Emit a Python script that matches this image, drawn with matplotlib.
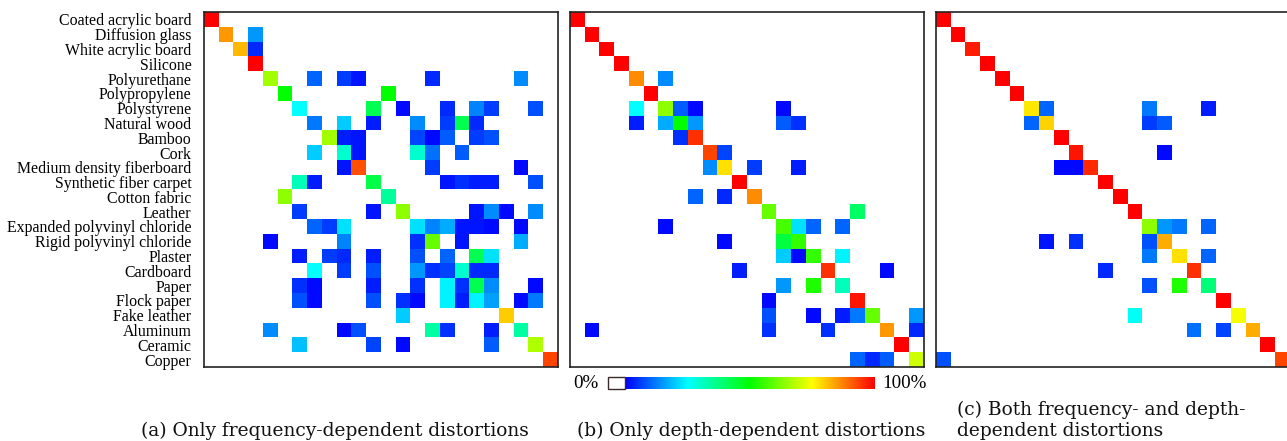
import numpy as np
import matplotlib
matplotlib.use("Agg")
import matplotlib.pyplot as plt
from matplotlib.colors import LinearSegmentedColormap
from matplotlib.patches import Rectangle

materials = ["Coated acrylic board", "Diffusion glass", "White acrylic board", "Silicone",
             "Polyurethane", "Polypropylene", "Polystyrene", "Natural wood", "Bamboo", "Cork",
             "Medium density fiberboard", "Synthetic fiber carpet", "Cotton fabric", "Leather",
             "Expanded polyvinyl chloride", "Rigid polyvinyl chloride", "Plaster", "Cardboard",
             "Paper", "Flock paper", "Fake leather", "Aluminum", "Ceramic", "Copper"]

# (row = true class, col = predicted class, percent)
freq_cells = [
    (0, 0, 100),
    (1, 1, 85), (1, 3, 15),
    (2, 2, 82), (2, 3, 4),
    (3, 3, 100),
    (4, 4, 66), (4, 7, 10), (4, 9, 6), (4, 10, 2), (4, 15, 4), (4, 21, 14),
    (5, 5, 50), (5, 12, 50),
    (6, 6, 25), (6, 11, 42), (6, 13, 1), (6, 16, 4), (6, 18, 13), (6, 19, 6), (6, 22, 8),
    (7, 7, 12), (7, 9, 20), (7, 11, 3), (7, 14, 14), (7, 16, 6), (7, 17, 42), (7, 18, 4),
    (8, 8, 66), (8, 9, 3), (8, 10, 2), (8, 14, 7), (8, 15, 1), (8, 16, 9), (8, 18, 6), (8, 19, 8),
    (9, 7, 20), (9, 9, 30), (9, 10, 2), (9, 14, 30), (9, 15, 11), (9, 17, 9),
    (10, 9, 2), (10, 10, 92), (10, 15, 6), (10, 21, 1),
    (11, 6, 32), (11, 7, 3), (11, 11, 43), (11, 16, 2), (11, 17, 5), (11, 18, 3), (11, 19, 3), (11, 22, 8),
    (12, 5, 64), (12, 12, 35),
    (13, 6, 6), (13, 11, 2), (13, 13, 64), (13, 18, 2), (13, 19, 14), (13, 20, 1), (13, 22, 14),
    (14, 7, 10), (14, 8, 6), (14, 9, 22), (14, 14, 22), (14, 15, 13), (14, 16, 17), (14, 17, 2),
    (14, 18, 2), (14, 19, 1), (14, 21, 1),
    (15, 4, 1), (15, 9, 13), (15, 14, 5), (15, 15, 60), (15, 17, 2), (15, 21, 17),
    (16, 6, 3), (16, 8, 6), (16, 9, 4), (16, 11, 3), (16, 14, 8), (16, 16, 10), (16, 18, 42), (16, 19, 22),
    (17, 7, 25), (17, 9, 6), (17, 11, 8), (17, 14, 15), (17, 15, 5), (17, 16, 7), (17, 17, 30),
    (17, 18, 4), (17, 19, 4),
    (18, 6, 5), (18, 7, 1), (18, 11, 3), (18, 14, 5), (18, 16, 24), (18, 17, 5), (18, 18, 42),
    (18, 19, 14), (18, 22, 1),
    (19, 6, 8), (19, 7, 1), (19, 11, 8), (19, 13, 5), (19, 14, 1), (19, 16, 24), (19, 17, 3),
    (19, 18, 24), (19, 19, 16), (19, 21, 1), (19, 22, 12),
    (20, 13, 20), (20, 20, 80),
    (21, 4, 14), (21, 9, 1), (21, 10, 8), (21, 15, 34), (21, 16, 5), (21, 19, 3), (21, 21, 34),
    (22, 6, 19), (22, 11, 7), (22, 13, 1), (22, 19, 9), (22, 22, 67),
    (23, 23, 93),
]

depth_cells = [
    (0, 0, 100), (1, 1, 100), (2, 2, 100), (3, 3, 100),
    (4, 4, 86), (4, 6, 14),
    (5, 5, 100),
    (6, 4, 25), (6, 6, 64), (6, 7, 9), (6, 8, 1), (6, 14, 1),
    (7, 4, 3), (7, 6, 17), (7, 7, 50), (7, 8, 15), (7, 14, 9), (7, 15, 5),
    (8, 7, 5), (8, 8, 95),
    (9, 9, 93), (9, 10, 7),
    (10, 9, 14), (10, 10, 78), (10, 12, 6), (10, 15, 3),
    (11, 11, 100),
    (12, 8, 10), (12, 10, 4), (12, 12, 86),
    (13, 13, 60), (13, 19, 40),
    (14, 6, 1), (14, 14, 57), (14, 15, 22), (14, 16, 10), (14, 18, 10),
    (15, 10, 1), (15, 14, 44), (15, 15, 55),
    (16, 14, 20), (16, 15, 1), (16, 16, 55), (16, 18, 24),
    (17, 11, 3), (17, 17, 95), (17, 21, 1),
    (18, 14, 15), (18, 16, 53), (18, 18, 32),
    (19, 13, 1), (19, 19, 98),
    (20, 13, 8), (20, 16, 1), (20, 18, 3), (20, 19, 12), (20, 20, 60), (20, 23, 15),
    (21, 1, 1), (21, 13, 5), (21, 17, 5), (21, 21, 85), (21, 23, 4),
    (22, 22, 100),
    (23, 19, 10), (23, 20, 4), (23, 21, 9), (23, 23, 70),
]

both_cells = [
    (0, 0, 100), (1, 1, 100), (2, 2, 97), (3, 3, 100), (4, 4, 100), (5, 5, 100),
    (6, 6, 77), (6, 7, 10), (6, 14, 12), (6, 18, 3),
    (7, 6, 10), (7, 7, 79), (7, 14, 6), (7, 15, 9),
    (8, 8, 100),
    (9, 9, 98), (9, 15, 1),
    (10, 8, 1), (10, 9, 1), (10, 10, 96),
    (11, 11, 100), (12, 12, 100), (13, 13, 100),
    (14, 14, 64), (14, 15, 15), (14, 16, 12), (14, 18, 10),
    (15, 7, 2), (15, 9, 5), (15, 14, 8), (15, 15, 83),
    (16, 14, 12), (16, 16, 78), (16, 18, 10),
    (17, 11, 4), (17, 17, 95),
    (18, 14, 8), (18, 16, 53), (18, 18, 38),
    (19, 19, 100),
    (20, 13, 26), (20, 20, 74),
    (21, 17, 11), (21, 19, 7), (21, 21, 83),
    (22, 22, 100),
    (23, 0, 8), (23, 23, 93),
]

captions = ["(a) Only frequency-dependent distortions",
            "(b) Only depth-dependent distortions",
            "(c) Both frequency- and depth-\ndependent distortions"]

W, H = 1287, 441
fig = plt.figure(figsize=(W / 100, H / 100), dpi=100)

cmap = LinearSegmentedColormap.from_list(
    "bcgyr", ["#0000ff", "#00ffff", "#00ff00", "#ffff00", "#ff0000"])
cmap.set_bad("white")


def px_axes(x0, y0, x1, y1):
    return fig.add_axes([x0 / W, 1 - y1 / H, (x1 - x0) / W, (y1 - y0) / H])


def build(cells, n):
    m = np.zeros((n, n))
    for r, c, v in cells:
        m[r, c] = v
    return np.ma.masked_where(m == 0, m)


n = len(materials)
boxes = [(204, 12, 558, 367), (570, 12, 924, 367), (936, 12, 1290, 367)]
for k, (cells, box) in enumerate(zip([freq_cells, depth_cells, both_cells], boxes)):
    ax = px_axes(*box)
    ax.imshow(build(cells, n), cmap=cmap, vmin=0, vmax=100, aspect="auto",
              interpolation="nearest")
    ax.set_xticks([])
    if k == 0:
        ax.set_yticks(range(n))
        ax.set_yticklabels(materials, fontfamily="Liberation Serif", fontsize=11.4)
        ax.tick_params(axis="y", length=0, pad=9)
    else:
        ax.set_yticks([])
    for s in ax.spines.values():
        s.set_color("#222222")
        s.set_linewidth(1.2)

# colour bar
cax = px_axes(625, 377, 875, 389)
cax.imshow(np.linspace(0, 1, 256)[None, :], cmap=cmap, aspect="auto", extent=[0, 1, 0, 1])
cax.set_axis_off()
fig.patches.append(Rectangle((608 / W, 1 - 389 / H), 17 / W, 12 / H, transform=fig.transFigure,
                             facecolor="white", edgecolor="#3a2a2a", linewidth=1.0))
fig.text(598 / W, 1 - 383 / H, "0%", ha="right", va="center",
         fontfamily="Liberation Serif", fontsize=13.7)
fig.text(882 / W, 1 - 383 / H, "100%", ha="left", va="center",
         fontfamily="Liberation Serif", fontsize=13.7)

cap_font = dict(fontfamily="DejaVu Serif", fontsize=13.4, color="#111111")
fig.text(335 / W, 1 - 436 / H, captions[0], ha="center", va="baseline", **cap_font)
fig.text(751 / W, 1 - 436 / H, captions[1], ha="center", va="baseline", **cap_font)
fig.text(957 / W, 1 - 436 / H, captions[2], ha="left", va="baseline",
         linespacing=1.2, **cap_font)

fig.savefig("out.png", dpi=100)
